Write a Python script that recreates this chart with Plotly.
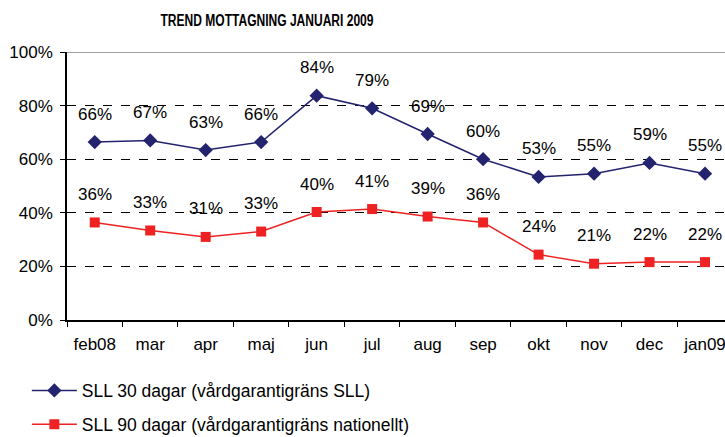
import plotly.graph_objects as go

months = ["feb08", "mar", "apr", "maj", "jun", "jul", "aug", "sep", "okt", "nov", "dec", "jan09"]
sll30 = [66.4, 67.0, 63.4, 66.4, 83.7, 79.0, 69.4, 60.0, 53.4, 54.6, 58.6, 54.6]
sll90 = [36.4, 33.4, 31.0, 33.0, 40.3, 41.4, 38.6, 36.4, 24.4, 21.0, 21.6, 21.6]
yticks = [0, 20, 40, 60, 80, 100]
ytick_text = ["0%", "20%", "40%", "60%", "80%", "100%"]
name30 = "SLL 30 dagar (vårdgarantigräns SLL)"
name90 = "SLL 90 dagar (vårdgarantigräns nationellt)"

BLUE = "#23236E"
RED = "#EE2222"
FONT = "Liberation Sans, Arial, sans-serif"

fig = go.Figure()
fig.add_trace(go.Scatter(x=months, y=sll30, mode="lines+markers", name=name30,
                         legendgroup="a",
                         line=dict(color=BLUE, width=1.5),
                         marker=dict(symbol="diamond", size=11, color=BLUE)))
fig.add_trace(go.Scatter(x=months, y=sll90, mode="lines+markers", name=name90,
                         legendgroup="b",
                         line=dict(color=RED, width=1.5),
                         marker=dict(symbol="square", size=10, color=RED)))

for series in (sll30, sll90):
    for m, v in zip(months, series):
        fig.add_annotation(x=m, y=v, text=f"{round(v)}%", showarrow=False,
                           yshift=28, font=dict(size=17, color="black", family=FONT))

fig.add_shape(type="line", xref="paper", yref="y", x0=0, x1=1, y0=100, y1=100,
              line=dict(color="#808080", width=1.5))

fig.update_layout(
    width=725, height=437,
    margin=dict(l=67, r=0, t=52, b=117, autoexpand=False),
    paper_bgcolor="white", plot_bgcolor="white",
    font=dict(family=FONT, size=17, color="black"),
    title=dict(text="<b>TREND MOTTAGNING JANUARI 2009</b>",
               font=dict(family=FONT, size=16, color="black"),
               x=267 / 725, xanchor="center", y=1 - 20 / 437, yanchor="middle"),
    showlegend=True,
    legend=dict(orientation="v", x=-0.061, xanchor="left", y=-0.196, yanchor="top",
                font=dict(size=17.5, family=FONT), itemwidth=45, tracegroupgap=8,
                bgcolor="rgba(0,0,0,0)"),
    xaxis=dict(type="category", range=[-0.5, 11.36], showgrid=False,
               showline=True, linecolor="black", linewidth=1.5,
               ticks="outside", tickson="boundaries", ticklen=5, tickcolor="black",
               ticklabelstandoff=8,
               tickfont=dict(size=17, family=FONT)),
    yaxis=dict(range=[0, 100], tickvals=yticks, ticktext=ytick_text,
               showgrid=True, gridcolor="black", griddash="dash", gridwidth=1,
               showline=True, linecolor="black", linewidth=1.5,
               ticks="outside", ticklen=5, tickcolor="black",
               ticklabelstandoff=4,
               zeroline=False, tickfont=dict(size=17, family=FONT)),
)

post = (
    "document.body.style.margin='0';document.body.style.overflow='hidden';"
    "var t=document.querySelector('.gtitle');"
    "if(t){t.setAttribute('textLength','213');t.setAttribute('lengthAdjust','spacingAndGlyphs');}"
)
fig.write_html("out.html", post_script=post, config={"displayModeBar": False})
